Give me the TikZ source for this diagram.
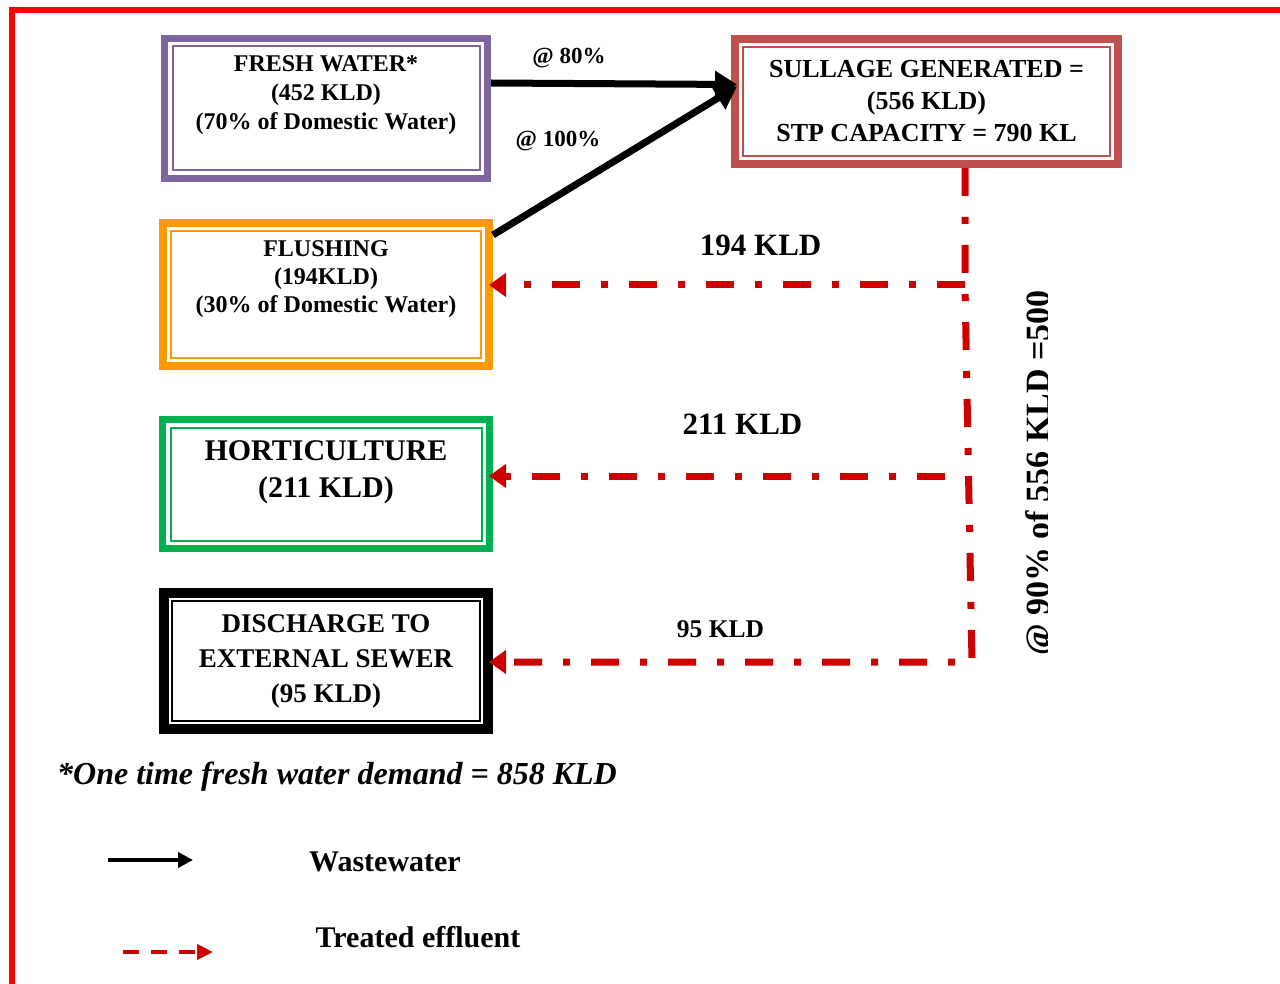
\documentclass[tikz,border=0pt]{standalone}
\usepackage{fontspec}
\setmainfont{Liberation Serif}
\usepackage{xcolor}
\definecolor{freshPurple}{HTML}{8064A2}
\definecolor{flushOrange}{HTML}{FF9900}
\definecolor{hortiGreen}{HTML}{00B050}
\definecolor{sullageRed}{HTML}{C0504D}
\definecolor{effluentRed}{HTML}{CC0000}
\definecolor{frameRed}{HTML}{FF0000}
\usetikzlibrary{positioning,calc,arrows.meta}
\newcommand{\bottomPad}[1]{\rule[-#1]{0pt}{#1}}
\tikzset{%
  flowBox/.style={%
    rectangle,
    draw=#1,
    fill=white,
    text=black,
    align=center,
    path picture={%
      \draw[line width=2pt, #1]
        ([shift={(8pt,-8pt)}]path picture bounding box.north west) rectangle
        ([shift={(-8pt,8pt)}]path picture bounding box.south east);
    }
  },
  boxFont/.style 2 args={%
    font=\bfseries\fontsize{#1}{#2}\selectfont
  },
  flowLabel/.style={%
    inner sep=0pt,
    text=black,
    font=\bfseries\fontsize{#1}{#1}\selectfont
  },
  wasteArrow/.style={%
    -{Triangle[length=22pt,width=26pt]},
    line width=7pt,
    color=black
  },
  effluentLine/.style={%
    line width=7pt,
    color=effluentRed,
    dash pattern=on 28pt off 21pt on 7pt off 21pt
  },
  effluentArrow/.style={%
    effluentLine,
    -{Triangle[length=17pt,width=23pt]},
    shorten >=-4pt
  },
  legendWaste/.style={%
    -{Triangle[length=15pt,width=15pt]},
    line width=4pt,
    color=black
  },
  legendEffluent/.style={%
    -{Triangle[length=16pt,width=15pt]},
    line width=4pt,
    color=effluentRed,
    dash pattern=on 16pt off 12pt
  },
  legendText/.style={%
    inner sep=0pt,
    font=\bfseries\fontsize{30}{30}\selectfont
  },
  noteText/.style={%
    inner sep=0pt,
    font=\bfseries\itshape\fontsize{32}{32}\selectfont
  },
  frameLine/.style={%
    line width=6pt,
    color=frameRed
  }
}

\begin{document}
\begin{tikzpicture}[x=1pt, y=-1pt]
  \useasboundingbox (0,0) rectangle (1280,984);
  \draw[frameLine] (12,984) -- (12,10) -- (1280,10);

  % left column of uses
  \node[flowBox=freshPurple, line width=7pt, minimum width=323pt, minimum height=140pt, boxFont={24}{29}] (fresh) at (326,108.5) {FRESH WATER*\\(452 KLD)\\(70\% of Domestic Water)\bottomPad{32pt}};
  \node[flowBox=flushOrange, line width=8pt, minimum width=326pt, minimum height=143pt, boxFont={24}{28}, below=37pt of fresh] (flushing) {FLUSHING\\(194KLD)\\(30\% of Domestic Water)\bottomPad{36pt}};
  \node[flowBox=hortiGreen, line width=7pt, minimum width=327pt, minimum height=129pt, boxFont={30}{37}, below=46pt of flushing] (horticulture) {HORTICULTURE\\(211 KLD)\bottomPad{30pt}};
  \node[flowBox=black, line width=10pt, minimum width=324pt, minimum height=136pt, boxFont={27}{35}, below=36pt of horticulture] (discharge) {DISCHARGE TO\\EXTERNAL SEWER\\(95 KLD)};
  \node[flowBox=sullageRed, line width=8pt, minimum width=383pt, minimum height=125pt, boxFont={26}{32}, anchor=north west] (sullage) at ([xshift=240pt]fresh.north east) {SULLAGE GENERATED =\\(556 KLD)\\STP CAPACITY = 790 KL};

  % wastewater
  \draw[wasteArrow] ([yshift=25.5pt]fresh.east) -- node[flowLabel=23, pos=0.317, above=12pt]{@ 80\%} ([shift={(6pt,17pt)}]sullage.west);
  \draw[wasteArrow] ([yshift=-16pt]flushing.north east) -- node[flowLabel=23, pos=0.5, xshift=-57pt, yshift=20pt]{@ 100\%} ([shift={(6pt,15pt)}]sullage.west);

  % treated effluent
  \coordinate (tap) at ([xshift=38.5pt]sullage.south);
  \coordinate (split194) at (965,285);
  \coordinate (split211) at (945,476);
  \coordinate (split95) at (972,662);
  \draw[effluentArrow] (tap) -- (split194) -- (split95) -- node[flowLabel=25.5, pos=0.525, above=20.5pt]{95 KLD} (split95 -| discharge.east);
  \draw[effluentArrow] (split194) -- node[flowLabel=31, pos=0.433, above=25.5pt]{194 KLD} (split194 -| flushing.east);
  \draw[effluentArrow] (split211) -- node[flowLabel=31, pos=0.448, above=37.5pt]{211 KLD} (split211 -| horticulture.east);

  \begin{scope}
    \clip (990,280) rectangle (1047,660);
    \node[flowLabel=34, rotate=90, anchor=base] (share) at (1049,473) {@ 90\% of 556 KLD =500};
  \end{scope}

  \node[noteText, anchor=west] (note) at (57,777) {*One time fresh water demand = 858 KLD};

  % legend
  \coordinate (wasteStart) at (108,860);
  \coordinate (wasteEnd) at (193,860);
  \coordinate (effluentStart) at (123,952);
  \coordinate (effluentEnd) at (213,952);
  \draw[legendWaste] (wasteStart) -- (wasteEnd);
  \draw[legendEffluent] (effluentStart) -- (effluentEnd);
  \node[legendText] (wasteKey) at (385,862) {Wastewater};
  \node[legendText] (effluentKey) at (418,937) {Treated effluent};
\end{tikzpicture}
\end{document}
